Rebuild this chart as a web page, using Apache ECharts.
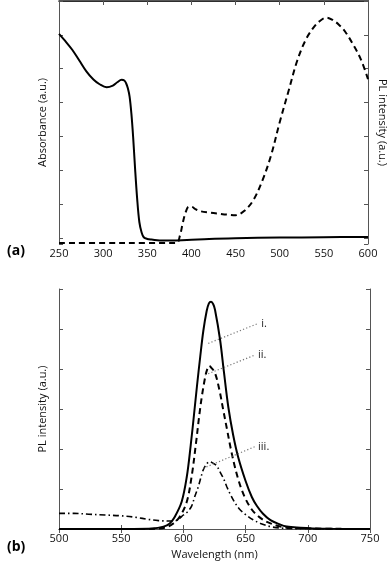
<!DOCTYPE html>
<html><head><meta charset="utf-8">
<script src="https://cdn.jsdelivr.net/npm/echarts@6/dist/echarts.min.js"></script>
<style>html,body{margin:0;padding:0;background:#fff}#c{width:390px;height:561px}</style>
</head><body><div id="c"></div>
<script>
// Panel (a): absorbance (solid) and PL (dashed)
const absX = [250,257,265,273,281,289,296,304,311,316,321,324,326,328,330,332,334,336,338.5,341,343.5,346,350,355,368,395,420,450,500,550,600];
const absY = [6.21,6.0,5.74,5.42,5.1,4.86,4.72,4.63,4.68,4.78,4.85,4.83,4.75,4.6,4.35,3.85,3.15,2.3,1.35,0.65,0.35,0.2,0.15,0.13,0.1,0.12,0.15,0.17,0.19,0.2,0.21];
const plAX = [250,300,350,383,387,390,393,397,400,405,410,420,430,440,450,460,470,480,490,500,510,520,530,540,547,553,560,567,574,583,592,600];
const plAY = [0.03,0.03,0.03,0.03,0.25,0.6,0.9,1.1,1.1,1.02,0.97,0.93,0.9,0.87,0.85,0.98,1.29,1.85,2.6,3.6,4.52,5.43,6.06,6.45,6.62,6.69,6.62,6.48,6.28,5.9,5.45,4.87];
// Panel (b): PL spectra i, ii, iii
const iX = [500,560,575,584,589,593,598.6,602.7,605.9,608.5,611,613.5,616,618.7,620.5,622.2,624,625.4,629.4,632.6,636.1,640,644,650,655,659,664,670,677,683,694,704,720,750];
const iY = [0,0,0.01,0.06,0.14,0.3,0.68,1.3,2.1,2.85,3.6,4.3,4.95,5.45,5.64,5.68,5.62,5.48,4.75,3.92,3.05,2.35,1.8,1.2,0.8,0.58,0.38,0.22,0.12,0.06,0.03,0.015,0.005,0];
const iiX = [500,570,585,592,597.3,602.7,606.7,610.1,612.8,615,617.4,619,620.8,622.5,625.4,628.9,632,635,638,641,644,647,650,654,658,664,670,678,690,750];
const iiY = [0,0,0.03,0.14,0.32,0.68,1.33,2.14,2.85,3.35,3.78,3.98,4.08,4.03,3.9,3.48,2.98,2.5,2.02,1.6,1.25,0.97,0.75,0.53,0.38,0.23,0.14,0.06,0.02,0];
const iiiX = [500,512,524,537,550,562,572,580,588,592,595,600,603,606.7,609,612,614,616,618.5,620.8,623,626.8,629,632,635,638,641,645,650,656,662,670,680,700,750];
const iiiY = [0.39,0.39,0.37,0.35,0.33,0.29,0.24,0.21,0.2,0.2,0.22,0.35,0.42,0.58,0.8,1.06,1.28,1.48,1.62,1.68,1.66,1.58,1.45,1.28,1.05,0.85,0.68,0.5,0.36,0.23,0.14,0.06,0.02,0.005,0];
// Annotation leader lines (data coords) and labels
const annLabels = ['i.','ii.','iii.'];
const annLines = [
  [[620,4.64],[660.2,5.14]],
  [[617.4,3.85],[657.6,4.35]],
  [[616,1.52],[657.6,2.06]]
];

const zip = (xs, ys) => xs.map((x, k) => [x, ys[k]]);
const FONT = '"Open Sans", sans-serif';
const AX = '#555';
const axisLine = {show: true, lineStyle: {color: AX, width: 1}};
const tick = {show: true, inside: true, length: 4, lineStyle: {color: AX}};
const lbl = {fontSize: 11, color: '#111', fontFamily: FONT};
const nameStyle = {fontSize: 11, color: '#111', fontFamily: FONT};
const A_MAX = 7.18;
const curve = {type: 'line', showSymbol: false, smooth: 0.35};

const option = {
  animation: false,
  backgroundColor: '#fff',
  textStyle: {fontFamily: FONT},
  grid: [
    {left: 59, top: 1, width: 309, height: 243, outerBoundsMode: 'none', containLabel: false},
    {left: 59, top: 289, width: 311, height: 240, outerBoundsMode: 'none', containLabel: false}
  ],
  xAxis: [
    {gridIndex: 0, type: 'value', position: 'bottom', min: 250, max: 600, interval: 50,
     axisLine, axisTick: tick, axisLabel: Object.assign({margin: 4}, lbl), splitLine: {show: false}},
    {gridIndex: 0, type: 'value', position: 'top', min: 250, max: 600, interval: 50,
     axisLine: {show: true, lineStyle: {color: '#222', width: 1.5}}, axisTick: tick, axisLabel: {show: false}, splitLine: {show: false}},
    {gridIndex: 1, type: 'value', position: 'bottom', min: 500, max: 750, interval: 50,
     axisLine, axisTick: tick, axisLabel: Object.assign({margin: 4}, lbl), splitLine: {show: false},
     name: 'Wavelength (nm)', nameLocation: 'middle', nameGap: 20, nameTextStyle: nameStyle},
    {gridIndex: 1, type: 'value', position: 'top', min: 500, max: 750, interval: 50,
     axisLine, axisTick: tick, axisLabel: {show: false}, splitLine: {show: false}}
  ],
  yAxis: [
    {gridIndex: 0, type: 'value', position: 'left', inverse: true, min: 0, max: A_MAX, interval: 1,
     axisLine, axisTick: tick, axisLabel: {show: false}, splitLine: {show: false},
     name: 'Absorbance (a.u.)', nameLocation: 'middle', nameGap: 11, nameRotate: 90, nameTextStyle: nameStyle},
    {gridIndex: 0, type: 'value', position: 'right', inverse: true, min: 0, max: A_MAX, interval: 1,
     axisLine, axisTick: tick, axisLabel: {show: false}, splitLine: {show: false},
     name: 'PL intensity (a.u.)', nameLocation: 'middle', nameGap: 9, nameRotate: -90, nameTextStyle: nameStyle},
    {gridIndex: 0, type: 'value', show: false, min: 0, max: A_MAX},
    {gridIndex: 1, type: 'value', position: 'left', min: 0, max: 6, interval: 1,
     axisLine, axisTick: tick, axisLabel: {show: false}, splitLine: {show: false},
     name: 'PL intensity (a.u.)', nameLocation: 'middle', nameGap: 11, nameRotate: 90, nameTextStyle: nameStyle},
    {gridIndex: 1, type: 'value', position: 'right', min: 0, max: 6, interval: 1,
     axisLine, axisTick: tick, axisLabel: {show: false}, splitLine: {show: false}}
  ],
  series: [
    Object.assign({}, curve, {xAxisIndex: 0, yAxisIndex: 2, data: zip(absX, absY),
     lineStyle: {color: '#000', width: 2}}),
    Object.assign({}, curve, {xAxisIndex: 0, yAxisIndex: 2, data: zip(plAX, plAY),
     lineStyle: {color: '#000', width: 2, type: [6, 4]}}),
    Object.assign({}, curve, {xAxisIndex: 2, yAxisIndex: 3, data: zip(iX, iY),
     lineStyle: {color: '#000', width: 2}}),
    Object.assign({}, curve, {xAxisIndex: 2, yAxisIndex: 3, data: zip(iiX, iiY),
     lineStyle: {color: '#000', width: 2, type: [6, 4]}}),
    Object.assign({}, curve, {xAxisIndex: 2, yAxisIndex: 3, data: zip(iiiX, iiiY),
     lineStyle: {color: '#000', width: 1.6, type: [6, 3, 1.5, 3]}})
  ].concat(annLines.map((pts, k) => ({
    type: 'line', xAxisIndex: 2, yAxisIndex: 3, data: pts, showSymbol: false, silent: true,
    lineStyle: {color: '#777', width: 1.2, type: [1.2, 2.2]},
    endLabel: {show: true, formatter: annLabels[k], distance: 3, fontSize: 11, color: '#222', fontFamily: FONT}
  }))),
  graphic: [
    {type: 'text', left: 7, top: 244, style: {text: '(a)', font: 'bold 14px "Open Sans", sans-serif', fill: '#000'}},
    {type: 'text', left: 7, top: 540, style: {text: '(b)', font: 'bold 14px "Open Sans", sans-serif', fill: '#000'}}
  ]
};
const chart = echarts.init(document.getElementById('c'), null, {renderer: 'canvas'});
chart.setOption(option);
</script></body></html>
